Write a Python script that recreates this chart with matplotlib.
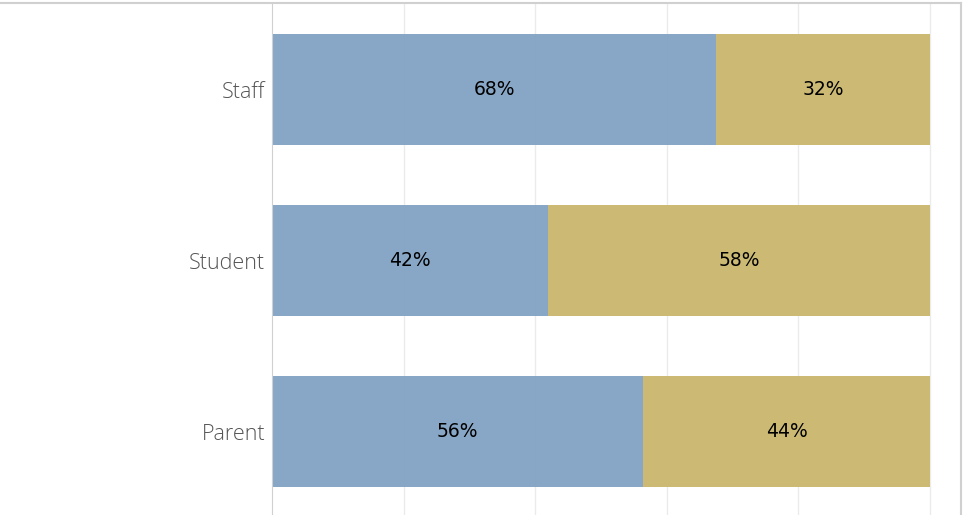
import matplotlib.pyplot as plt
from matplotlib.lines import Line2D

groups = ['Parent', 'Student', 'Staff']
share_a = [0.564, 0.419, 0.675]
share_b = [0.436, 0.581, 0.325]

blue = '#84a4c4'
gold = '#cbb86f'

fig = plt.figure(figsize=(9.63, 5.15), dpi=100)
ax = fig.add_axes([272 / 963, 0, (961 - 272) / 963, 512 / 515])

pos = list(range(len(groups)))
ax.barh(pos, share_a, height=0.65, color=blue, alpha=0.97, zorder=2)
ax.barh(pos, share_b, left=share_a, height=0.65, color=gold, alpha=0.97, zorder=2)

for i in pos:
    ax.text(share_a[i] / 2, i, f'{share_a[i]:.0%}', ha='center', va='center',
            fontsize=13.5, color='black', zorder=3)
    ax.text(share_a[i] + share_b[i] / 2, i, f'{share_b[i]:.0%}', ha='center', va='center',
            fontsize=13.5, color='black', zorder=3)

ax.set_xlim(0, 689 / 658)
ax.set_ylim(-0.488, 2.506)
ax.set_xticks([0.2, 0.4, 0.6, 0.8, 1.0])
ax.xaxis.grid(True, color='#ebebeb', linewidth=1, zorder=1)
ax.tick_params(axis='x', length=0, labelbottom=False)
ax.set_yticks(pos)
ax.set_yticklabels(groups, fontsize=15.5, color='#555555', family='Open Sans',
                   fontweight='light')
ax.tick_params(axis='y', length=0, pad=5)
for s in ['top', 'right', 'bottom']:
    ax.spines[s].set_visible(False)
ax.spines['left'].set_color('#d0d0d0')

# outer frame lines
fig.add_artist(Line2D([0, 961 / 963], [1 - 3 / 515, 1 - 3 / 515], color='#d0d0d0', lw=1.5))
fig.add_artist(Line2D([961 / 963, 961 / 963], [0, 1 - 3 / 515], color='#d0d0d0', lw=1.5))

fig.savefig('out.png', dpi=100)
